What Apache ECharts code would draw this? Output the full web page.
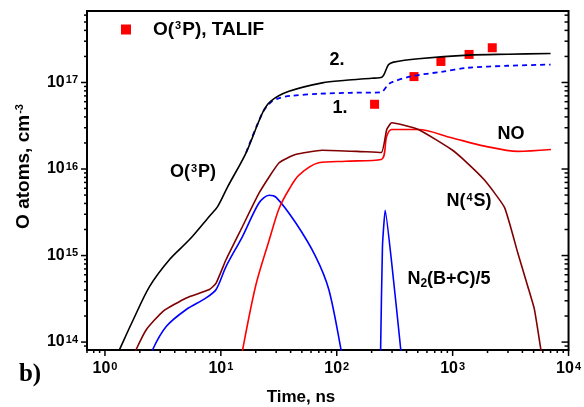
<!DOCTYPE html>
<html>
<head>
<meta charset="utf-8">
<script src="https://cdn.jsdelivr.net/npm/echarts@6/dist/echarts.min.js"></script>
<style>
  html, body { margin: 0; padding: 0; background: #fff; }
  #chart { width: 584px; height: 407px; }
</style>
</head>
<body>
<div id="chart"></div>
<script>
// axis limits (time in ns, density in cm-3)
const xMin = 0.7, xMax = 10000
const yMin = 8.1e13, yMax = 6.7e17
const xMajor = [1, 10, 100, 1000, 10000]
const yMajor = [1e14, 1e15, 1e16, 1e17]
const xMinor = []
const yMinor = []
for (const d of [0.1, 1, 10, 100, 1000]) {
  for (let k = 2; k <= 9; k++) if (d * k >= xMin && d * k < xMax) xMinor.push(d * k)
}
for (const d of [1e13, 1e14, 1e15, 1e16, 1e17]) {
  for (let k = 2; k <= 9; k++) if (d * k >= yMin && d * k < yMax) yMinor.push(d * k)
}

// curve 2. : O(3P) total
const oTotal = [
  [1.2, 6e13], [1.33, 8.1e13], [1.75, 1.8e14], [2.43, 4.4e14], [3.61, 9e14],
  [5.37, 1.53e15], [7.97, 2.85e15], [9.4, 3.7e15], [11.5, 6.3e15], [16.5, 1.54e16],
  [22.9, 4.47e16], [27, 6.1e16], [38.7, 7.9e16], [75, 9.9e16], [120, 1.06e17],
  [200, 1.12e17], [245, 1.15e17], [279, 1.6e17], [309, 1.72e17], [506, 1.88e17],
  [1360, 2.07e17], [3000, 2.12e17], [7000, 2.16e17]
]
// curve 1. : O(3P), dashed
const oCase1 = [
  [16.5, 1.54e16], [22.9, 4.47e16], [27, 5.9e16], [32, 6.6e16], [40, 7.0e16],
  [70, 7.4e16], [130, 7.6e16], [240, 7.7e16], [270, 9.0e16], [295, 1.0e17],
  [443, 1.18e17], [800, 1.33e17], [1360, 1.48e17], [3000, 1.56e17], [7000, 1.61e17]
]
// O(3P), TALIF measurements
const talif = [[212, 5.6e16], [464, 1.17e17], [792, 1.75e17], [1386, 2.11e17], [2197, 2.52e17]]
// N(4S)
const nAtom = [
  [1.7, 6e13], [1.85, 8.1e13], [2.28, 1.4e14], [3.17, 2.27e14], [5.03, 3.24e14],
  [7.97, 4.05e14], [9.1, 4.8e14], [11.1, 9e14], [15.4, 2.18e15], [21.4, 5.3e15],
  [31.8, 1.18e16], [44, 1.47e16], [75, 1.65e16], [150, 1.6e16], [242, 1.55e16],
  [270, 2.86e16], [298, 3.42e16], [506, 2.86e16], [977, 1.68e16], [1270, 1.25e16],
  [1890, 7.4e15], [2800, 3.6e15], [3650, 1.07e15], [4450, 4.4e14],
  [5070, 2.4e14], [5780, 8.1e13], [6000, 6e13]
]
// NO
const noMol = [
  [15, 6e13], [15.4, 8.1e13], [20, 4.5e14], [26.1, 1.5e15], [31.8, 3.5e15],
  [38.7, 5.8e15], [47.2, 8.5e15], [70, 1.18e16], [119, 1.23e16], [242, 1.29e16],
  [270, 2.4e16], [298, 2.86e16], [506, 2.86e16], [977, 2.3e16], [1890, 1.84e16],
  [3650, 1.6e16], [7050, 1.68e16]
]
// N2(B+C)/5, discharge pulse and second pulse
const n2First = [
  [2.45, 6e13], [2.57, 8.1e13], [3.39, 1.52e14], [5.03, 2.38e14], [7.46, 3.24e14],
  [9.1, 4.05e14], [11.1, 7.5e14], [15.4, 1.67e15], [21.4, 4.07e15], [26.1, 4.98e15],
  [30, 4.7e15], [44.2, 2.39e15], [65.6, 9.8e14], [85.4, 4.05e14], [109, 8.1e13], [112, 6e13]
]
const n2Second = [
  [238, 6e13], [239, 8.1e13], [248, 1.28e15], [262, 3.34e15], [298, 8.2e14],
  [357, 8.1e13], [362, 6e13]
]

const FONT = 'Liberation Sans'
const supRich = {
  b: { fontFamily: FONT, fontWeight: 'bold', fontSize: 16, color: '#000' },
  s: { fontFamily: FONT, fontWeight: 'bold', fontSize: 11, color: '#000', verticalAlign: 'top', padding: [0, 0, 3, 1] }
}
const txtRich = {
  a: { fontFamily: FONT, fontWeight: 'bold', fontSize: 18, color: '#000' },
  l: { fontFamily: FONT, fontWeight: 'bold', fontSize: 19, color: '#000' },
  t: { fontFamily: FONT, fontWeight: 'bold', fontSize: 17, color: '#000' },
  s: { fontFamily: FONT, fontWeight: 'bold', fontSize: 11, color: '#000', verticalAlign: 'top', padding: [0, 1, 3, 1] },
  d: { fontFamily: FONT, fontWeight: 'bold', fontSize: 12, color: '#000', verticalAlign: 'bottom', padding: [10, 0, 0, 0] }
}
const lg = Math.log10

// series sit on hidden log axes; the decade labels come from value axes
function seriesAxis (pos, min, max) {
  return { type: 'log', position: pos, min: min, max: max, offset: 0, show: false }
}
function labelAxis (pos, min, max, ticks) {
  return {
    type: 'value', position: pos, min: lg(min), max: lg(max), offset: 0,
    axisLine: { show: false, onZero: false },
    axisTick: { show: false },
    splitLine: { show: false },
    axisLabel: {
      show: true, customValues: ticks.map(lg), rich: supRich,
      formatter: v => '{b|10}{s|' + Math.round(v) + '}',
      margin: pos === 'left' ? 9 : 11
    }
  }
}

// tick marks drawn through the log axes: dir is the unit step away from the frame
function ticks (name, values, atX, len, dir) {
  return {
    name: name, type: 'custom', silent: true, clip: false, z: 5,
    data: values.map(v => atX === null ? [v, yMin] : [atX, v]),
    renderItem: (params, api) => {
      const p = api.coord([api.value(0), api.value(1)])
      return {
        type: 'line',
        shape: { x1: p[0], y1: p[1], x2: p[0] + dir[0] * len, y2: p[1] + dir[1] * len },
        style: { stroke: '#000', lineWidth: 1.5 }
      }
    }
  }
}

function note (x, y, text, extra) {
  return Object.assign({
    type: 'text', x: x, y: y, z: 100,
    style: { text: text, rich: txtRich, align: 'center', verticalAlign: 'middle' }
  }, extra || {})
}

const chart = echarts.init(document.getElementById('chart'))
chart.setOption({
  animation: false,
  grid: { left: 87, right: 12, top: 11, bottom: 57, show: true, borderColor: '#000', borderWidth: 2, backgroundColor: 'transparent' },
  xAxis: [
    seriesAxis('bottom', xMin, xMax),
    labelAxis('bottom', xMin, xMax, xMajor)
  ],
  yAxis: [
    seriesAxis('left', yMin, yMax),
    labelAxis('left', yMin, yMax, yMajor)
  ],
  legend: {
    left: 116, top: 15, itemWidth: 10, itemHeight: 10, icon: 'rect',
    data: ['TALIF'],
    formatter: () => '{g|}{l|O(}{s|3}{l|P), TALIF}',
    textStyle: { rich: Object.assign({ g: { width: 17 } }, txtRich) }
  },
  series: [
    ticks('xMajorTicks', xMajor, null, 6, [0, 1]),
    ticks('xMinorTicks', xMinor, null, 3, [0, 1]),
    ticks('yMajorTicks', yMajor, xMin, 6, [-1, 0]),
    ticks('yMinorTicks', yMinor, xMin, 3, [-1, 0]),
    ticks('yMajorTicksR', yMajor, xMax, 7, [-1, 0]),
    ticks('yMinorTicksR', yMinor, xMax, 4, [-1, 0]),
    { name: 'N2a', type: 'line', data: n2First, showSymbol: false, smooth: 0.3, lineStyle: { color: '#0000ff', width: 1.6 } },
    { name: 'N2b', type: 'line', data: n2Second, showSymbol: false, smooth: 0.15, lineStyle: { color: '#0000ff', width: 1.6 } },
    { name: 'NO', type: 'line', data: noMol, showSymbol: false, smooth: 0.3, lineStyle: { color: '#ff0000', width: 1.6 } },
    { name: 'N', type: 'line', data: nAtom, showSymbol: false, smooth: 0.15, lineStyle: { color: '#7f0000', width: 1.6 } },
    { name: 'case1', type: 'line', data: oCase1, showSymbol: false, smooth: 0.3, lineStyle: { color: '#0000ff', width: 1.8, type: [5, 4] } },
    { name: 'total', type: 'line', data: oTotal, showSymbol: false, smooth: 0.3, lineStyle: { color: '#000', width: 1.6 } },
    { name: 'TALIF', type: 'scatter', data: talif, symbol: 'rect', symbolSize: 9, itemStyle: { color: '#ff0000', opacity: 1 } }
  ],
  graphic: [
    note(337, 60, '{a|2.}'),
    note(340, 108, '{a|1.}'),
    note(511, 134, '{a|NO}'),
    note(193, 172, '{a|O(}{s|3}{a|P)}'),
    note(469, 201, '{a|N(}{s|4}{a|S)}'),
    note(449, 279, '{a|N}{d|2}{a|(B+C)/5}'),
    note(301, 397, '{t|Time, ns}'),
    note(24, 166, '{l|O atoms, cm}{s|-3}', { rotation: Math.PI / 2 }),
    {
      type: 'text', x: 30, y: 375, z: 100,
      style: { text: 'b)', font: 'bold 25px "Liberation Serif"', fill: '#000', align: 'center', verticalAlign: 'middle' }
    }
  ]
})
</script>
</body>
</html>
